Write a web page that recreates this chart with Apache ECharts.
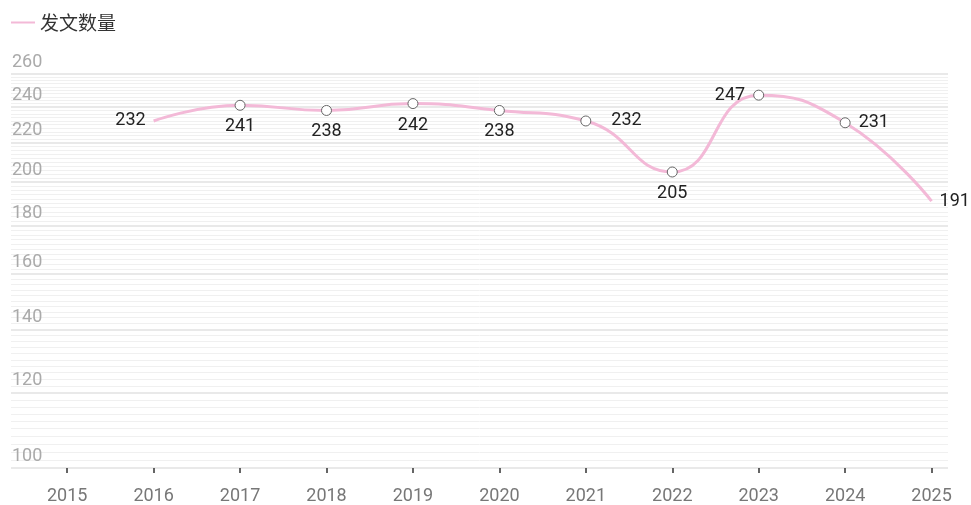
<!DOCTYPE html>
<html>
<head>
<meta charset="utf-8">
<script src="https://cdn.jsdelivr.net/npm/echarts@6/dist/echarts.min.js"></script>
<style>
  html, body { margin: 0; padding: 0; background: #fff; }
  #chart { width: 971px; height: 505px; }
</style>
</head>
<body>
<div id="chart"></div>
<script>
var years = [2015, 2016, 2017, 2018, 2019, 2020, 2021, 2022, 2023, 2024, 2025];
var counts = [null, 232, 241, 238, 242, 238, 232, 205, 247, 231, 191];
var labelPos = [null, "left", "bottom", "bottom", "bottom", "bottom", "right", "bottom", "left", "right", "right"];
var labelGap = [0, 8, 7, 7, 7, 7, 20, 7, 8, 8, 8];
var yTicks = [100, 120, 140, 160, 180, 200, 220, 240, 260];
var yMinor = [];
for (var v = 102; v < 260; v += 2) {
  if (v % 20 !== 0) yMinor.push(v);
}

var myChart = echarts.init(document.getElementById("chart"));
var font = "Roboto, sans-serif";
var pink = "#f3b9d7";

var points = [];
for (var i = 0; i < years.length; i++) {
  if (counts[i] == null) continue;
  var edge = i === 1 || i === years.length - 1;
  points.push({
    value: [years[i], counts[i]],
    symbolSize: edge ? 0 : 10,
    label: { position: labelPos[i], distance: labelGap[i] }
  });
}

var option = {
  animation: false,
  textStyle: { fontFamily: font },
  legend: {
    left: 5,
    top: 8,
    itemWidth: 24,
    itemHeight: 14,
    itemGap: 8,
    itemStyle: { opacity: 0 },
    textStyle: { fontSize: 19, color: "#333", fontFamily: "'Noto Sans CJK SC', sans-serif" },
    data: ["发文数量"]
  },
  grid: { left: 11, right: 23, top: 74, bottom: 33 },
  xAxis: {
    type: "value",
    min: 2014.35,
    max: 2025.19,
    axisLine: { show: false },
    splitLine: { show: false },
    axisTick: {
      show: true,
      length: 5,
      customValues: years,
      lineStyle: { color: "#333", width: 1.5 }
    },
    axisLabel: {
      customValues: years,
      margin: 19,
      fontSize: 18,
      color: "#777",
      formatter: function (val) { return String(val); }
    }
  },
  yAxis: [
    {
      type: "log",
      logBase: 10,
      min: 100,
      max: 260,
      position: "left",
      axisLine: { show: false },
      axisTick: { show: false, customValues: yMinor },
      axisLabel: { show: false },
      splitLine: { show: true, lineStyle: { color: "#f0f0f0", width: 1 } }
    },
    {
      type: "log",
      logBase: 10,
      min: 100,
      max: 260,
      position: "left",
      offset: 0,
      axisLine: { show: false },
      axisTick: { show: false, customValues: yTicks },
      axisLabel: {
        customValues: yTicks,
        inside: true,
        margin: 1,
        verticalAlign: "bottom",
        padding: [0, 0, 3, 0],
        fontSize: 18,
        color: "#aaa"
      },
      splitLine: { show: true, lineStyle: { color: "#e2e2e2", width: 1.5 } }
    }
  ],
  series: [
    {
      name: "发文数量",
      type: "line",
      yAxisIndex: 1,
      smooth: true,
      symbol: "circle",
      showAllSymbol: true,
      clip: false,
      lineStyle: { color: pink, width: 3 },
      itemStyle: { color: "#fff", borderColor: "#666", borderWidth: 1 },
      label: { show: true, fontSize: 18, color: "#222" },
      data: points
    }
  ]
};

myChart.setOption(option);
</script>
</body>
</html>
